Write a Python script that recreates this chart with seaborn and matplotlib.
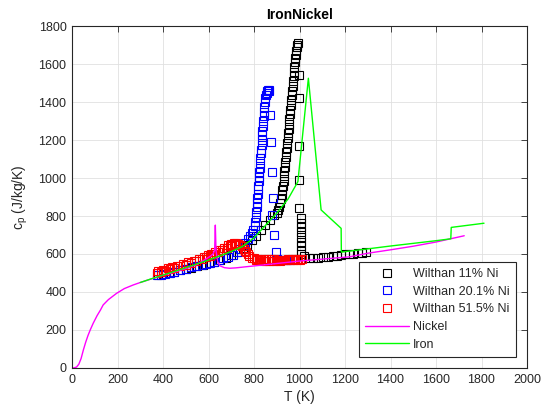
import matplotlib
matplotlib.use('Agg')
import matplotlib.pyplot as plt
import seaborn as sns

# ---------------- data ----------------
black_T = [380, 400, 425, 450, 475, 500, 525, 550, 575, 600,
           625, 650, 675, 700, 725, 750, 770, 790, 810, 830,
           850, 870, 890,
           900, 905, 910, 914, 918, 921, 924, 927, 930, 932,
           934, 936, 938, 940, 942, 944, 946, 948, 950, 952,
           954, 956, 958, 960, 962, 964, 966, 968, 970, 972,
           974, 976, 978, 980, 982, 984, 986, 988, 990, 992,
           996, 996, 996, 996, 996,
           1005, 1005, 1005, 1005, 1005, 1005, 1005, 1005, 1008, 1020,
           1040, 1058, 1080, 1102, 1124, 1146, 1165, 1183, 1200, 1219,
           1237, 1256, 1274, 1292]
black_cp = [488, 493, 500, 507, 514, 521, 528, 535, 543, 551,
            560, 570, 581, 594, 610, 630, 650, 672, 697, 725,
            752, 780, 805,
            815, 830, 850, 870, 890, 910, 935, 960, 985, 1010,
            1035, 1060, 1085, 1110, 1135, 1160, 1185, 1210, 1235, 1260,
            1285, 1310, 1335, 1360, 1385, 1410, 1435, 1460, 1485, 1510,
            1535, 1560, 1585, 1610, 1630, 1650, 1670, 1690, 1700, 1708,
            1542, 1419, 1168, 989, 844,
            790, 765, 740, 715, 690, 665, 640, 615, 600, 590,
            580, 577, 580, 582, 586, 589, 592, 595, 598, 600,
            602, 604, 607, 609]

blue_T = [372, 390, 410, 430, 450, 474, 500, 525, 547, 570,
          590, 605, 625, 645, 664, 685, 708, 725, 740, 751,
          762, 772, 781, 790, 797,
          803, 805, 807, 809, 811, 813, 815, 816, 818, 819,
          821, 822, 824, 825, 827, 828, 830, 831, 833, 834,
          836, 837, 839, 840, 842, 844, 846, 848, 850, 852,
          855, 858, 861, 864, 867,
          871, 876, 878, 882, 880, 887, 895, 902, 920, 940, 960]
blue_cp = [487, 491, 496, 501, 506, 514, 522, 529, 535, 541,
           547, 552, 560, 568, 577, 586, 597, 610, 625, 640,
           658, 677, 695, 712, 728,
           750, 770, 795, 820, 845, 870, 895, 915, 940, 960,
           985, 1005, 1030, 1055, 1080, 1105, 1130, 1150, 1175, 1200,
           1225, 1250, 1275, 1300, 1325, 1350, 1375, 1400, 1420, 1435,
           1450, 1458, 1463, 1465, 1460,
           1332, 1191, 1030, 893, 805, 700, 612, 572, 568, 567, 567]

red_T = [372, 380, 390, 400, 410, 420, 430, 440, 450, 460,
         474, 487, 500, 512, 525, 536, 547, 558, 570, 580,
         590, 598, 605, 612, 620, 630, 640, 650, 660, 670,
         680, 687, 693, 700, 705, 712, 715, 722, 730, 738,
         746, 754, 760, 766, 772, 780, 790, 800, 808, 815,
         823, 830, 838, 845, 853, 860, 868, 875, 883, 890,
         898, 905, 913, 920, 928, 935, 943, 950, 958, 965,
         973, 980, 988, 995, 1003, 1010]
red_cp = [500, 512, 506, 517, 513, 524, 520, 531, 527, 538,
          535, 547, 544, 556, 553, 565, 562, 574, 572, 584,
          582, 593, 590, 602, 600, 612, 611, 623, 622, 634,
          634, 645, 642, 652, 649, 657, 654, 660, 655, 650,
          640, 628, 618, 610, 600, 588, 580, 577, 566, 576,
          566, 575, 565, 574, 565, 573, 565, 572, 565, 572,
          565, 571, 565, 571, 566, 571, 566, 572, 567, 572,
          568, 573, 569, 574, 570, 575]

ni_T = [0, 10, 20, 30, 40, 50, 60, 70, 80, 93,
        110, 125, 137, 160, 196, 230, 269, 300, 357, 400,
        450, 500, 550, 605, 620, 627, 630, 633, 640, 650,
        670, 693, 720, 766, 839, 900, 1000, 1100, 1219, 1300,
        1400, 1500, 1600, 1724]
ni_cp = [0, 1, 5, 20, 50, 95, 135, 170, 200, 235,
         275, 305, 332, 360, 393, 418, 437, 450, 472, 488,
         505, 523, 545, 586, 600, 620, 752, 620, 560, 538,
         528, 525, 527, 533, 542, 550, 563, 573, 585, 604,
         622, 641, 663, 696]

fe_T = [300, 350, 400, 450, 500, 550, 600, 650, 700, 750,
        800, 850, 900, 950, 993, 1039, 1095, 1183, 1184, 1300,
        1400, 1500, 1600, 1665, 1667, 1811]
fe_cp = [450, 470, 489, 508, 528, 548, 568, 590, 613, 640,
         685, 750, 815, 890, 981, 1525, 832, 735, 610, 627,
         642, 656, 670, 680, 740, 762]

labels = ["Wilthan 11% Ni", "Wilthan 20.1% Ni", "Wilthan 51.5% Ni", "Nickel", "Iron"]
x_ticks = list(range(0, 2001, 200))
y_ticks = list(range(0, 1801, 200))

# ---------------- style ----------------
sns.set_theme(style='white')
plt.rcParams['font.family'] = ['Liberation Sans', 'DejaVu Sans']
plt.rcParams['mathtext.fontset'] = 'custom'
plt.rcParams['mathtext.rm'] = 'Liberation Sans'
plt.rcParams['mathtext.it'] = 'Liberation Sans:italic'
plt.rcParams['mathtext.default'] = 'regular'

dark = '#262626'

fig = plt.figure(figsize=(5.44, 4.15), dpi=100)
ax = fig.add_axes([72 / 544, 1 - 368 / 415, (527 - 72) / 544, (368 - 26) / 415])

marker_series = [(black_T, black_cp, 'black', labels[0]),
                 (blue_T, blue_cp, '#0000ff', labels[1]),
                 (red_T, red_cp, '#ff0000', labels[2])]
for T, cp, col, lab in marker_series:
    sns.lineplot(x=T, y=cp, ax=ax, sort=False, estimator=None, label=lab,
                 color=col, linestyle='', marker='s', markersize=5.2,
                 markerfacecolor='none', markeredgecolor=col,
                 markeredgewidth=0.8)

sns.lineplot(x=ni_T, y=ni_cp, ax=ax, sort=False, estimator=None,
             label=labels[3], color='#ff00ff', linewidth=1.0)
sns.lineplot(x=fe_T, y=fe_cp, ax=ax, sort=False, estimator=None,
             label=labels[4], color='#00ff00', linewidth=1.0)

ax.set_xlim(0, 2000)
ax.set_ylim(0, 1800)
ax.set_xticks(x_ticks)
ax.set_yticks(y_ticks)
ax.grid(True, color='#e0e0e0', linewidth=0.6)
ax.set_axisbelow(True)
ax.tick_params(direction='in', top=True, right=True, length=4, width=0.6,
               color=dark, labelcolor=dark, labelsize=9, pad=4)
for sp in ax.spines.values():
    sp.set_color(dark)
    sp.set_linewidth(0.8)

ax.set_title('IronNickel', fontweight='bold', fontsize=10, color='black', pad=5)
ax.set_xlabel('T (K)', fontsize=10, color=dark, labelpad=3)
ax.set_ylabel(r'c$_{\mathrm{p}}$ (J/kg/K)', fontsize=10, color=dark, labelpad=6)

leg = ax.legend(loc='lower right', fontsize=9, frameon=True, fancybox=False,
                edgecolor=dark, framealpha=1, handlelength=3.5,
                handletextpad=0.3, borderaxespad=0.9, labelspacing=0.45,
                borderpad=0.5)
leg.get_frame().set_linewidth(0.8)
for t in leg.get_texts():
    t.set_color(dark)

fig.savefig('out.png', dpi=100)
